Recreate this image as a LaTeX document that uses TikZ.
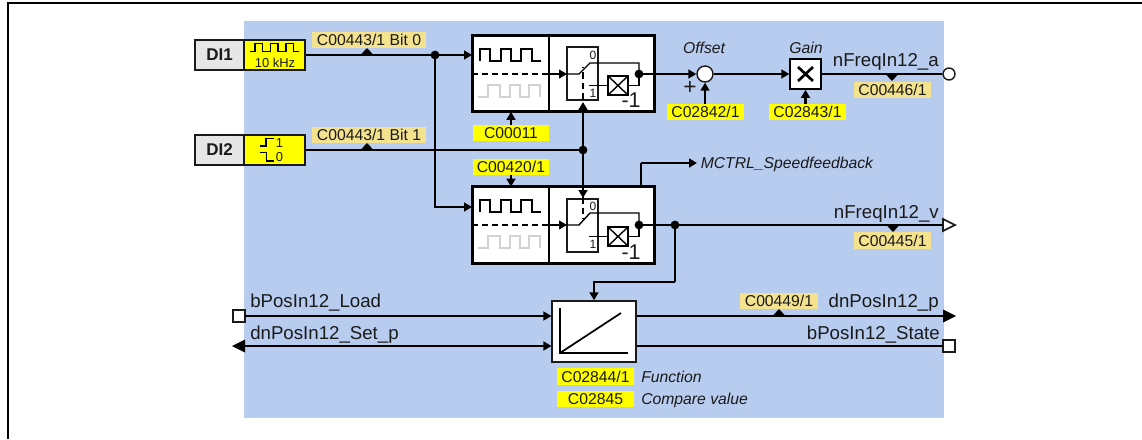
\documentclass[tikz,border=0pt]{standalone}
\usepackage{fontspec}
\setmainfont{Liberation Sans}
\usetikzlibrary{arrows.meta}
\definecolor{bgblue}{HTML}{B8CCEF}
\definecolor{codeyel}{HTML}{FFFF00}
\definecolor{monyel}{HTML}{F5E28E}
\definecolor{digrey}{HTML}{E6E6E6}
\definecolor{wavegrey}{HTML}{D2D2D2}
\definecolor{ink}{HTML}{1A1A1A}
\newcommand{\lblfont}{\fontsize{11.8}{14}\selectfont}
\newcommand{\sigfont}{\fontsize{14}{16}\selectfont}
\newcommand{\noteswave}[2]{%
  (480,#2)--(480,#1)--(490,#1)--(490,#2)--(501,#2)--(501,#1)--(511,#1)--(511,#2)--(521,#2)--(521,#1)--(532,#1)--(532,#2)--(541,#2)}
\newcommand{\greywave}[2]{%
  (478,#2)--(488,#2)--(488,#1)--(500,#1)--(500,#2)--(510,#2)--(510,#1)--(520,#1)--(520,#2)--(529,#2)--(529,#1)--(540,#1)--(540,#2)}
\tikzset{
  x=0.75pt,y=-0.75pt,
  every node/.style={text=ink},
  wire/.style={draw=black,line width=1.55pt},
  thinwire/.style={draw=black,line width=1.05pt},
  tri/.style={-{Triangle[length=6pt,width=6.6pt]}},
  jdot/.style={circle,fill=black,inner sep=0pt,minimum size=6.6pt},
  codebox/.style={fill=codeyel,inner sep=0pt,text height=8.6pt,text depth=0pt,font=\lblfont,align=center},
  monbox/.style={fill=monyel,inner sep=0pt,text height=8.6pt,text depth=0pt,font=\lblfont,align=center},
  dibox/.style={draw=ink,line width=1.3pt,fill=digrey,minimum width=36.7pt,minimum height=22.5pt,inner sep=0pt,font=\fontsize{12.75}{14}\selectfont\bfseries},
  sigbox/.style={draw=ink,line width=1.3pt,fill=codeyel,minimum width=45.7pt,minimum height=22.5pt,inner sep=0pt},
  funcblock/.style={draw=black,line width=2.2pt,fill=white,minimum width=137pt,minimum height=57.5pt,inner sep=0pt,outer sep=0pt},
  swbox/.style={draw=ink,line width=1.05pt,fill=white,minimum width=23.2pt,minimum height=39.7pt,inner sep=0pt,outer sep=0pt},
  xbox/.style={draw=black,line width=1.2pt,fill=white,minimum width=15pt,minimum height=14.3pt,inner sep=0pt,outer sep=0pt},
  signame/.style={font=\sigfont,inner sep=0pt},
  ital/.style={font=\lblfont\itshape,inner sep=0pt},
  smalldigit/.style={font=\fontsize{9}{10}\selectfont,inner sep=0pt},
  minusone/.style={font=\fontsize{16}{18}\selectfont,inner sep=0pt},
  porthollow/.style={draw=ink,line width=1.2pt,fill=white,inner sep=0pt,outer sep=0pt},
}
\begin{document}
\begin{tikzpicture}
\useasboundingbox (0,0) rectangle (1142,439);
% frame and background
\draw[line width=1.6pt,black] (8,439)--(8,3)--(1142,3);
\fill[bgblue] (244,21) rectangle (944,418);

% monitor / code labels
\node[monbox,minimum width=85.5pt,minimum height=12pt] (m0) at (369,40) {C00443/1 Bit 0};
\node[monbox,minimum width=85.5pt,minimum height=12pt] (m1) at (369,135) {C00443/1 Bit 1};
\node[monbox,minimum width=57.7pt,minimum height=12pt] (m46) at (892.5,89.5) {C00446/1};
\node[monbox,minimum width=57.7pt,minimum height=12.6pt] (m45) at (892.5,240.5) {C00445/1};
\node[monbox,minimum width=58.5pt,minimum height=12pt] (m49) at (779,301) {C00449/1};
\node[codebox,minimum width=57pt,minimum height=12pt] (c11) at (511,133) {C00011};
\node[codebox,minimum width=57pt,minimum height=12pt] (c420) at (511,167) {C00420/1};
\node[codebox,minimum width=57.7pt,minimum height=12pt] (c842) at (705.5,112) {C02842/1};
\node[codebox,minimum width=57.7pt,minimum height=12pt] (c843) at (807.5,112) {C02843/1};
\node[codebox,minimum width=57.7pt,minimum height=12.6pt] (c844) at (595.5,376.5) {C02844/1};
\node[codebox,minimum width=57.7pt,minimum height=12pt] (c845) at (595.5,399) {C02845};

% inputs
\node[dibox] (di1) at (219.5,55) {DI1};
\node[sigbox] (s1) at (274.5,55) {};
\node[dibox] (di2) at (219.5,150) {DI2};
\node[sigbox] (s2) at (274.5,150) {};
\draw[line width=1.05pt,black] (250,51.7)--(255,51.7)--(255,43.3)--(262.7,43.3)--(262.7,51.7)--(270.7,51.7)--(270.7,43.3)--(278,43.3)--(278,51.7)--(286,51.7)--(286,43.3)--(293.5,43.3)--(293.5,51.7)--(298.5,51.7);
\node[font=\fontsize{9.7}{11}\selectfont,inner sep=0pt] (khz) at (275,63) {10 kHz};
\draw[line width=1.05pt,black] (260,146)--(266,146)--(266,138.3)--(274,138.3);
\draw[line width=1.05pt,black] (260,152.3)--(266.7,152.3)--(266.7,161)--(274,161);
\node[font=\fontsize{9.7}{11}\selectfont,inner sep=0pt] (hi) at (279.5,143) {1};
\node[font=\fontsize{9.7}{11}\selectfont,inner sep=0pt] (lo) at (279.5,157) {0};

% function blocks
\node[funcblock] (b1) at (563.5,73.5) {};
\node[funcblock] (b2) at (563.5,225) {};
\draw[line width=0.9pt,black] (b1.north -| 549,0) -- (b1.south -| 549,0);
\draw[line width=0.9pt,black] (b2.north -| 549,0) -- (b2.south -| 549,0);
\draw[line width=2pt,black] \noteswave{49}{61};
\draw[line width=2pt,black] \noteswave{200}{212};
\draw[line width=2pt,wavegrey] \greywave{85}{97};
\draw[line width=2pt,wavegrey] \greywave{236}{248};

\node[swbox] (sw1) at (582.5,73.5) {};
\node[swbox] (sw2) at (582.5,225.5) {};
\node[xbox] (x1) at (618,85.5) {};
\node[xbox] (x2) at (618,236.5) {};
\draw[line width=1.05pt,black] (x1.north west)--(x1.south east) (x1.north east)--(x1.south west);
\draw[line width=1.05pt,black] (x2.north west)--(x2.south east) (x2.north east)--(x2.south west);
\node[smalldigit] (d10) at (593,55) {0};
\node[smalldigit] (d11) at (593,93) {1};
\node[smalldigit] (d20) at (593,206) {0};
\node[smalldigit] (d21) at (593,244) {1};
\node[minusone] (n1) at (631,100) {-1};
\node[minusone] (n2) at (631,252) {-1};

% junctions
\node[jdot] (ja) at (435,55) {};
\node[jdot] (jb) at (583,150) {};
\node[jdot] (jo1) at (639,74) {};
\node[jdot] (jo2) at (639,225) {};
\node[jdot] (jv) at (675,225) {};

% dashed wave selector and switches
\draw[line width=0.9pt,black,dash pattern=on 4.5pt off 3pt] (472,74)--(549,74);
\draw[line width=0.9pt,black,dash pattern=on 4.5pt off 3pt] (472,225)--(549,225);
\coordinate (t1) at (549,74);
\coordinate (t2) at (549,225);
\draw[thinwire,tri] (t1) -- (sw1.west |- t1);
\draw[thinwire,tri] (t2) -- (sw2.west |- t2);
\draw[thinwire] (567,74)--(579,74)--(590,63)--(639,63)--(jo1.center);
\draw[thinwire] (567,225)--(579,225)--(590,213)--(639,213)--(jo2.center);
\draw[thinwire] (589,85.5)--(x1.west);
\draw[thinwire] (589,236.5)--(x2.west);
\draw[thinwire] (x1.east)--(639,85.5)--(jo1.center);
\draw[thinwire] (x2.east)--(639,236.5)--(jo2.center);
\draw[line width=0.9pt,black,dash pattern=on 5pt off 3pt] (583,100)--(583,67);
\draw[line width=0.9pt,black,dash pattern=on 5pt off 3pt] (583,197)--(583,219);

% input wires
\coordinate (j1) at (472,55);
\coordinate (j2) at (472,207);
\draw[wire] (s1.east) -- (ja.center);
\draw[wire,tri] (ja.center) -- (j1);
\draw[wire,tri] (ja.center) |- (j2);
\draw[wire] (s2.east) -- (jb.center);
\coordinate (swu) at (583,102);
\coordinate (swl) at (583,198);
\draw[wire,tri] (jb.center) -- (swu);
\draw[wire,tri] (jb.center) -- (swl);
\draw[wire,tri] (c11.north) -- (c11.north |- b1.south);
\draw[wire,tri] (c420.south) -- (c420.south |- b2.north);
\fill[black] (360.5,55)--(367,48)--(373.5,55)--cycle;
\fill[black] (360.5,150)--(367,143)--(373.5,150)--cycle;

% upper output path
\node[circle,draw=ink,line width=1.05pt,fill=white,minimum size=12pt,inner sep=0pt] (sum) at (705,74) {};
\node[draw=black,line width=1.2pt,fill=white,minimum width=23pt,minimum height=22.5pt,inner sep=0pt] (gain) at (805.5,74) {};
\draw[line width=2pt,black] (798,67)--(813,81) (813,67)--(798,81);
\node[circle,draw=ink,line width=1.05pt,fill=white,minimum size=9pt,inner sep=0pt] (oa) at (949,74) {};
\draw[wire,tri] (jo1.center) -- (sum.west);
\draw[wire,tri] (sum.east) -- (gain.west);
\draw[thinwire] (gain.east) -- (oa.west);
\draw[wire,tri] (sum.south |- c842.north) -- (sum.south);
\draw[wire,tri] (gain.south |- c843.north) -- (gain.south);
\fill[black] (885.5,74)--(892,81)--(898.5,74)--cycle;
\node[ital,anchor=base] (loff) at (704,53) {Offset};
\node[ital,anchor=base] (lgain) at (806,53) {Gain};
\node[font=\fontsize{17}{19}\selectfont,inner sep=0pt] (plus) at (690,88) {+};
\node[signame,anchor=base east] (na) at (939,66.7) {nFreqIn12\_a};

% speed feedback
\coordinate (mup) at (641,163);
\coordinate (mctrl) at (697,163);
\draw[wire] (641,186) -- (mup);
\draw[wire,tri] (mup) -- (mctrl);
\node[ital,anchor=base west] (lmc) at (700.5,168) {MCTRL\_Speedfeedback};

% lower output path
\coordinate (ov) at (943,225);
\draw[thinwire] (jo2.center) -- (ov);
\draw[wire] (jo2.center) -- (jv.center);
\draw[porthollow] (943,219)--(955,225)--(943,231)--cycle;
\fill[black] (886.5,225)--(893,232)--(899.5,225)--cycle;
\node[signame,anchor=base east] (nv) at (939,218.7) {nFreqIn12\_v};

% compare block
\node[draw=ink,line width=1.3pt,fill=white,minimum width=62.5pt,minimum height=45.5pt,inner sep=0pt] (b3) at (594,331.5) {};
\draw[line width=1.45pt,black] (560,308)--(560,353)--(628,353);
\draw[line width=1.3pt,black] (560,353)--(621,313);
\coordinate (vbend) at (675,282);
\draw[wire] (jv.center) -- (vbend);
\draw[wire,tri] (vbend) -| (b3.north);

% left ports
\node[porthollow,rectangle,minimum size=8.8pt] (pl) at (239,316) {};
\coordinate (pd) at (245,346);
\draw[wire,tri] (pl.east) -- (b3.west |- pl.east);
\draw[wire,tri] (pd) -- (b3.west |- pd);
\fill[black] (232,346)--(245,339.5)--(245,352.5)--cycle;
\node[signame,anchor=base west] (lload) at (250,307) {bPosIn12\_Load};
\node[signame,anchor=base west] (lset) at (250,339) {dnPosIn12\_Set\_p};

% right ports
\coordinate (pr) at (944,316);
\draw[thinwire] (b3.east |- pr) -- (pr);
\fill[black] (943,309.5)--(956,316)--(943,322.5)--cycle;
\fill[black] (772.5,316)--(779,309)--(785.5,316)--cycle;
\node[porthollow,rectangle,minimum size=8.8pt] (ps) at (949,346) {};
\draw[thinwire] (b3.east |- ps.west) -- (ps.west);
\node[signame,anchor=base east] (lp) at (939,307) {dnPosIn12\_p};
\node[signame,anchor=base east] (lst) at (940,339) {bPosIn12\_State};

% notes
\node[ital,anchor=base west] (lfn) at (641,382) {Function};
\node[ital,anchor=base west] (lcv) at (641,404) {Compare value};
\end{tikzpicture}
\end{document}
